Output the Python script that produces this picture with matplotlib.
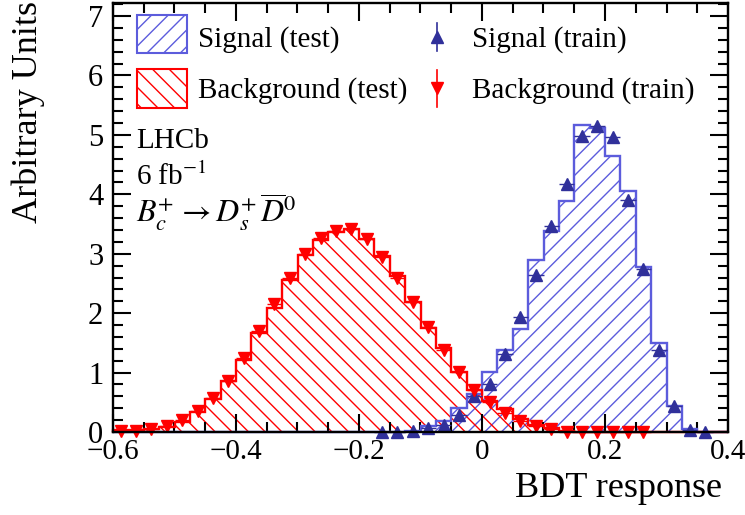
import numpy as np
import matplotlib
matplotlib.use("Agg")
import matplotlib.pyplot as plt
from matplotlib.patches import Rectangle
from matplotlib.lines import Line2D
from matplotlib.ticker import MultipleLocator, FuncFormatter

# ---------------- data ----------------
bin_low = -0.6
bin_width = 0.025
n_bins = 40

signal_test = [0, 0, 0, 0, 0, 0, 0, 0, 0, 0,
               0, 0, 0, 0, 0, 0, 0, 0, 0, 0.02,
               0.10, 0.19, 0.41, 0.64, 1.01, 1.38, 1.73, 2.90, 3.39, 3.88,
               5.17, 5.12, 4.65, 4.05, 2.77, 1.50, 0.44, 0.05, 0, 0]

background_test = [0.03, 0.03, 0.05, 0.09, 0.16, 0.34, 0.55, 0.86, 1.22, 1.66,
                   2.09, 2.55, 2.98, 3.23, 3.36, 3.41, 3.25, 2.96, 2.62, 2.18,
                   1.75, 1.41, 1.01, 0.71, 0.53, 0.39, 0.22, 0.12, 0.06, 0.02,
                   0.005, 0.005, 0.005, 0.005, 0.005, 0.005, 0.005, 0.005, 0.005, 0.005]

nan = np.nan
signal_train = [nan, nan, nan, nan, nan, nan, nan, nan, nan, nan,
                nan, nan, nan, nan, nan, nan, nan, 0.0, 0.0, 0.01,
                0.06, 0.12, 0.29, 0.60, 0.81, 1.31, 1.94, 2.65, 3.46, 4.18,
                4.99, 5.15, 4.96, 3.90, 2.75, 1.38, 0.44, 0.03, 0.0, nan]

background_train = [0.01, 0.02, 0.05, 0.10, 0.21, 0.36, 0.58, 0.86, 1.24, 1.70,
                    2.15, 2.59, 2.99, 3.26, 3.38, 3.41, 3.25, 2.95, 2.59, 2.18,
                    1.76, 1.38, 1.01, 0.71, 0.50, 0.32, 0.19, 0.10, 0.05, 0.0,
                    0.0, 0.0, 0.0, 0.0, 0.0, nan, nan, nan, nan, nan]

legend_labels = ["Signal (test)", "Background (test)", "Signal (train)", "Background (train)"]

# ---------------- style ----------------
plt.rcParams["font.family"] = ["Liberation Serif", "DejaVu Serif"]
plt.rcParams["mathtext.fontset"] = "stix"
plt.rcParams["hatch.linewidth"] = 1.0

sig_line = "#5c5cdc"
sig_mark = "#30309a"
bkg = "#ff0000"

edges = bin_low + bin_width * np.arange(n_bins + 1)
centers = edges[:-1] + bin_width / 2

fig = plt.figure(figsize=(7.45, 5.15), dpi=100)
ax = fig.add_axes([113 / 745, 1 - 432 / 515, 615 / 745, 429 / 515])

sig = np.array(signal_test)
bg = np.array(background_test)

ax.stairs(sig, edges, fill=True, facecolor="none", edgecolor=sig_line,
          hatch="//", linewidth=0, zorder=1)
ax.stairs(bg, edges, fill=True, facecolor="none", edgecolor=bkg,
          hatch="\\\\", linewidth=0, zorder=1)
ax.stairs(sig, edges, color=sig_line, linewidth=1.7, zorder=2, clip_on=False)
ax.stairs(bg, edges, color=bkg, linewidth=1.7, zorder=3, clip_on=False)

st = np.array(signal_train)
bt = np.array(background_train)
ms = 9
ax.errorbar(centers, st, xerr=bin_width / 2, fmt="^", color=sig_mark, ms=ms,
            elinewidth=1.0, capsize=0, zorder=5, clip_on=False)
ax.errorbar(centers, bt, xerr=bin_width / 2, fmt="v", color=bkg, ms=ms,
            elinewidth=1.0, capsize=0, zorder=5, clip_on=False)


def fmt_x(v, pos):
    if abs(v) < 1e-9:
        return "0"
    return ("%.1f" % v).replace("-", "\u2212")


ax.set_xlim(-0.6, 0.4)
ax.set_ylim(0, 7.22)
ax.xaxis.set_major_locator(MultipleLocator(0.2))
ax.xaxis.set_minor_locator(MultipleLocator(0.05))
ax.xaxis.set_major_formatter(FuncFormatter(fmt_x))
ax.yaxis.set_major_locator(MultipleLocator(1))
ax.yaxis.set_minor_locator(MultipleLocator(0.2))
ax.yaxis.set_major_formatter(FuncFormatter(lambda v, p: "%d" % round(v)))
ax.tick_params(which="both", direction="in", top=True, right=True, width=1.5)
ax.tick_params(which="major", length=13)
ax.tick_params(which="minor", length=7)
ax.tick_params(axis="x", which="major", labelsize=21, pad=5)
ax.tick_params(axis="y", which="major", labelsize=22, pad=7)
for s in ax.spines.values():
    s.set_linewidth(1.7)
    s.set_zorder(6)

fig.text(28 / 745, 1 - 1 / 515, "Arbitrary Units", rotation=90,
         ha="center", va="top", fontsize=26)
fig.text(722 / 745, 1 - 497 / 515, "BDT response", ha="right",
         va="baseline", fontsize=26)

# ---------------- annotations ----------------
def axx(px):
    return (px - 113) / 615

def axy(py):
    return (432 - py) / 429

ax.text(axx(136), axy(148), "LHCb", transform=ax.transAxes, fontsize=21,
        va="baseline")
ax.text(axx(136), axy(185), "6 fb$^{-1}$", transform=ax.transAxes, fontsize=21,
        va="baseline")
ax.text(axx(136), axy(223),
        r"$B_c^{\!\!+} \rightarrow D_s^{\!\!+}\overline{D}^0$",
        transform=ax.transAxes, fontsize=23, va="baseline")

# ---------------- legend ----------------
boxes = [(15, 53, sig_line, "//"), (69, 108, bkg, "\\\\")]
for (t, b, c, h) in boxes:
    r = Rectangle((axx(137), axy(b)), axx(187) - axx(137), axy(t) - axy(b),
                  transform=ax.transAxes, facecolor="none", edgecolor=c,
                  hatch=h, linewidth=1.5, zorder=7)
    ax.add_patch(r)
rows = [(47, 37, 23, 51, sig_mark, "^"), (98, 88, 70, 107, bkg, "v")]
for i, (base, my, t, b, c, m) in enumerate(rows):
    ax.text(axx(198), axy(base), legend_labels[i], transform=ax.transAxes,
            fontsize=21, va="baseline", zorder=7)
    ax.text(axx(472), axy(base), legend_labels[2 + i], transform=ax.transAxes,
            fontsize=21, va="baseline", zorder=7)
    ax.add_line(Line2D([axx(437), axx(437)], [axy(b), axy(t)],
                       transform=ax.transAxes, color=c, lw=1.2, zorder=7))
    ax.add_line(Line2D([axx(437)], [axy(my)], transform=ax.transAxes,
                       color=c, marker=m, ms=ms, ls="none", zorder=7))

fig.savefig("out.png", dpi=100)
